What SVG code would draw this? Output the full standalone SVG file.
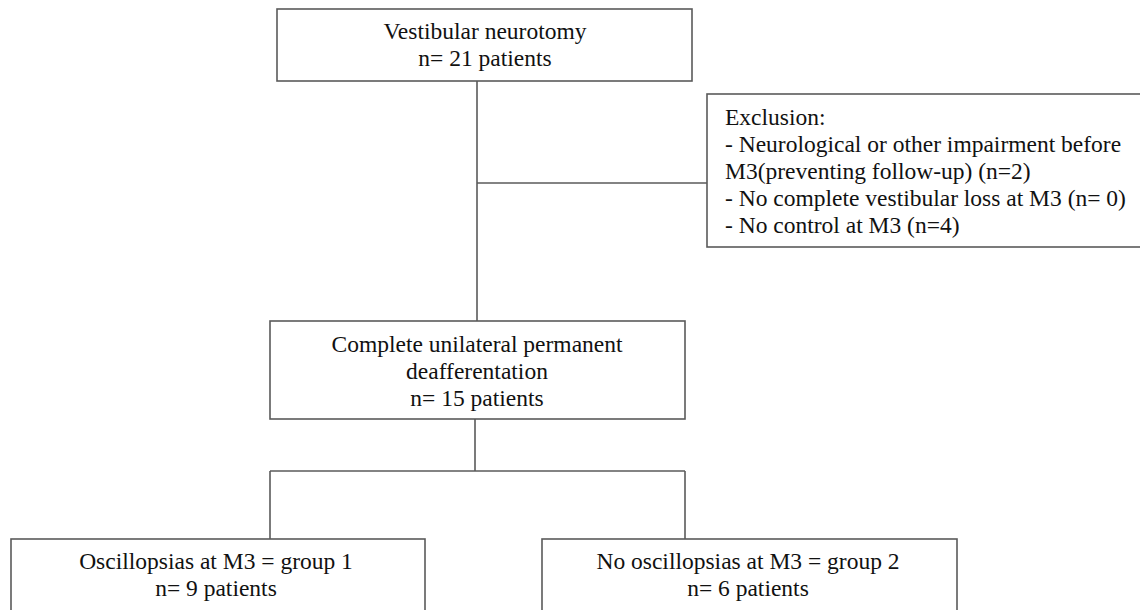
<svg xmlns="http://www.w3.org/2000/svg" width="1140" height="610" viewBox="0 0 1140 610">
<style>
.box{fill:#fff;stroke:#5a5a5a;stroke-width:1.6}
.ln{fill:none;stroke:#5a5a5a;stroke-width:1.6}
text{font-family:"Liberation Serif","Times New Roman",serif;font-size:23.5px;fill:#111}
.c{text-anchor:middle}
</style>
<rect width="1140" height="610" fill="#fff"/>
<g id="connectors">
<line class="ln" x1="477" y1="81" x2="477" y2="321"/>
<line class="ln" x1="477" y1="183" x2="707" y2="183"/>
<line class="ln" x1="475" y1="419" x2="475" y2="471"/>
<line class="ln" x1="270" y1="471" x2="685" y2="471"/>
<line class="ln" x1="270" y1="471" x2="270" y2="539"/>
<line class="ln" x1="685" y1="471" x2="685" y2="539"/>
</g>
<g id="node-top">
<rect class="box" x="277" y="9" width="415" height="72"/>
<text class="c" x="485" y="39">Vestibular neurotomy</text>
<text class="c" x="485" y="66">n= 21 patients</text>
</g>
<g id="node-exclusion">
<rect class="box" x="707" y="94" width="440" height="153"/>
<text x="725" y="125">Exclusion:</text>
<text x="725" y="152">- Neurological or other impairment before</text>
<text x="725" y="179">M3(preventing follow-up) (n=2)</text>
<text x="725" y="206">- No complete vestibular loss at M3 (n= 0)</text>
<text x="725" y="233">- No control at M3 (n=4)</text>
</g>
<g id="node-middle">
<rect class="box" x="270" y="321" width="415" height="98"/>
<text class="c" x="477" y="352">Complete unilateral permanent</text>
<text class="c" x="477" y="379">deafferentation</text>
<text class="c" x="477" y="406">n= 15 patients</text>
</g>
<g id="node-group1">
<rect class="box" x="11" y="539" width="414" height="80"/>
<text class="c" x="216" y="569">Oscillopsias at M3 = group 1</text>
<text class="c" x="216" y="596">n= 9 patients</text>
</g>
<g id="node-group2">
<rect class="box" x="542" y="539" width="415" height="80"/>
<text class="c" x="748" y="569">No oscillopsias at M3 = group 2</text>
<text class="c" x="748" y="596">n= 6 patients</text>
</g>
</svg>
